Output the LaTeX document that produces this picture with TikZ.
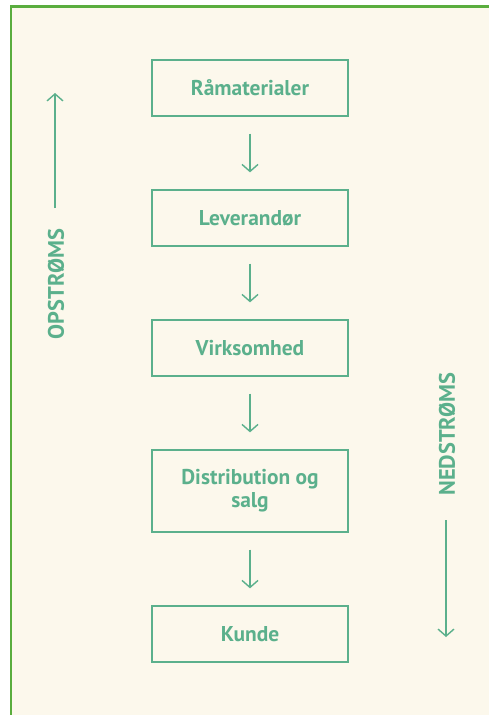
\documentclass[tikz,border=0pt]{standalone}
\usepackage{fontspec}
\setmainfont{PT Sans}
\usetikzlibrary{arrows.meta}
\definecolor{boxgreen}{HTML}{5BB08C}
\definecolor{framegreen}{HTML}{5AAD3E}
\definecolor{cream}{HTML}{FCF8EC}
\tikzset{
  stepbox/.style={draw=boxgreen, line width=1.3bp, minimum width=196bp, inner sep=0pt, text=boxgreen, font=\fontsize{21.5}{23}\selectfont\bfseries, align=center},
  flow/.style={draw=boxgreen, line width=1.4bp, -{Straight Barb[length=7bp,width=16bp]}},
  side/.style={text=boxgreen, font=\fontsize{22.5}{24}\selectfont\bfseries, rotate=90},
}
\begin{document}
\begin{tikzpicture}[x=1bp,y=-1bp]
\useasboundingbox (0,0) rectangle (489,715);
\fill[white] (0,0) rectangle (489,715);
\fill[cream] (10,6) rectangle (489,715);
\draw[framegreen, line width=2.4bp] (11,715) -- (11,6.5) -- (489,6.5);
\node[stepbox, minimum height=56bp] (r) at (250,88) {Råmaterialer};
\node[stepbox, minimum height=56bp] (l) at (250,218) {Leverandør};
\node[stepbox, minimum height=56bp] (v) at (250,348) {Virksomhed};
\node[stepbox, minimum height=82bp] (d) at (250,491) {Distribution og\\salg};
\node[stepbox, minimum height=56bp] (k) at (250,634) {Kunde};
\draw[flow] ([yshift=-17bp]r.south) -- ([yshift=17bp]l.north);
\draw[flow] ([yshift=-17bp]l.south) -- ([yshift=17bp]v.north);
\draw[flow] ([yshift=-17bp]v.south) -- ([yshift=17bp]d.north);
\draw[flow] ([yshift=-17bp]d.south) -- ([yshift=17bp]k.north);
\node[side] (op) at (56,284) {OPSTRØMS};
\coordinate (opstart) at (55,208);
\coordinate (opend) at (55,93);
\draw[flow] (opstart) -- (opend);
\node[side] (ned) at (447,434) {NEDSTRØMS};
\coordinate (nedstart) at (446,520);
\coordinate (nedend) at (446,637);
\draw[flow] (nedstart) -- (nedend);
\end{tikzpicture}
\end{document}
